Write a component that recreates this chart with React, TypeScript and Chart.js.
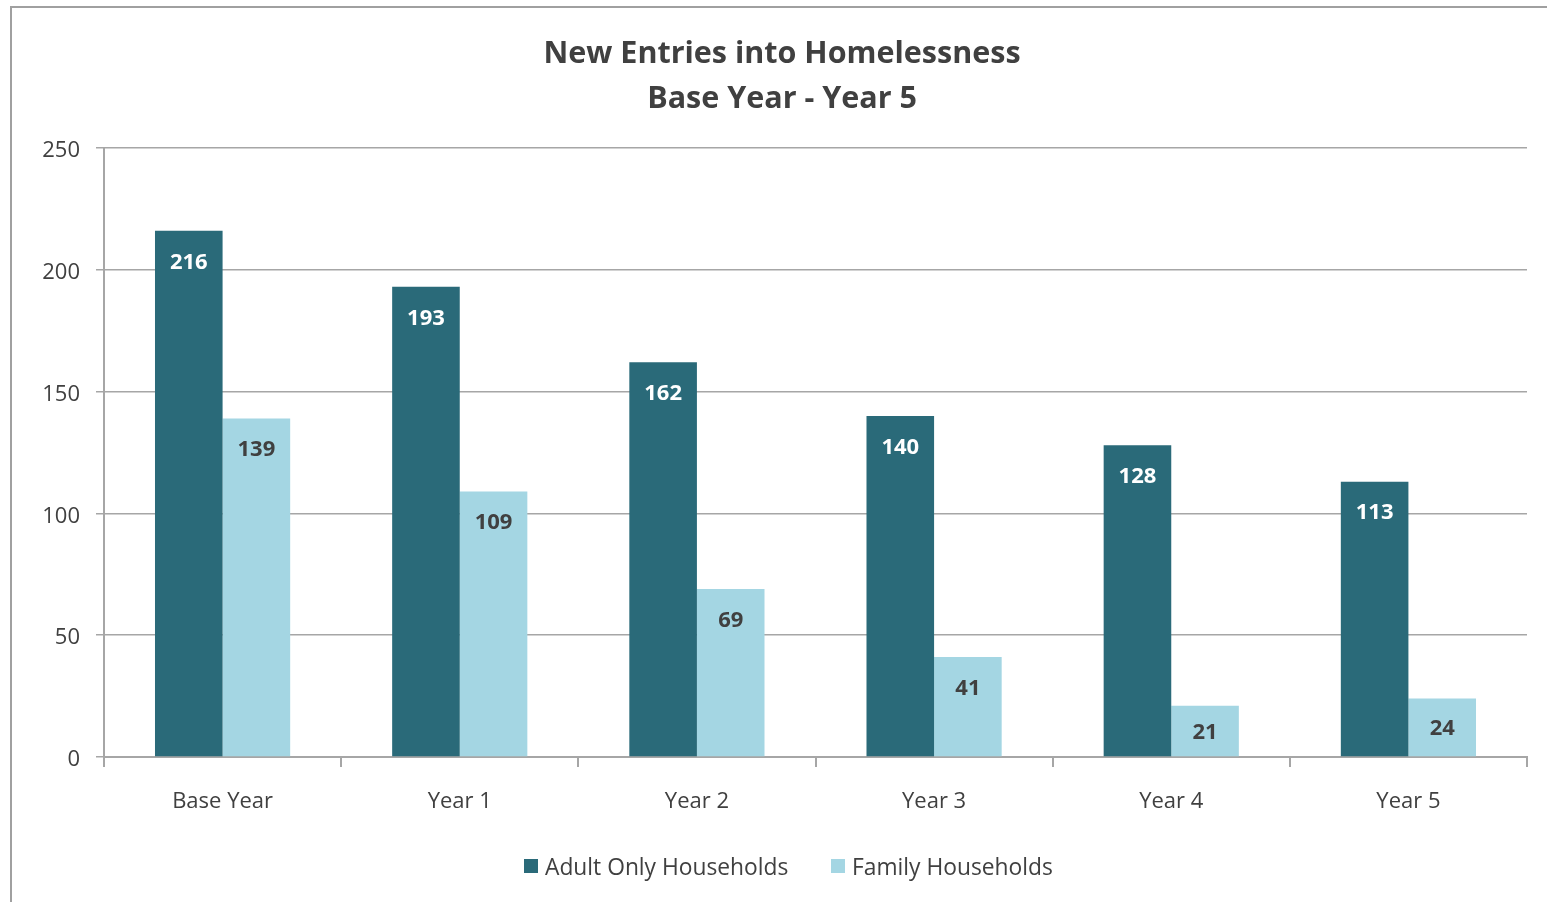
import React, { useEffect, useRef } from "react";
import { Chart, registerables } from "chart.js";

Chart.register(...registerables);

const categories = ["Base Year", "Year 1", "Year 2", "Year 3", "Year 4", "Year 5"];
const adultOnly = [216, 193, 162, 140, 128, 113];
const family = [139, 109, 69, 41, 21, 24];
const seriesNames = ["Adult Only Households", "Family Households"];
const titleLines = ["New Entries into Homelessness", "Base Year - Year 5"];
const yTicks = [0, 50, 100, 150, 200, 250];

const DARK = "#2A6A79";
const LIGHT = "#A4D6E3";
const TEXT = "#404040";
const GRID = "#a6a6a6";
const FONT = "'Open Sans', sans-serif";

const decorPlugin = {
  id: "decor",
  beforeDraw(chart: any) {
    const ctx = chart.ctx;
    ctx.save();
    ctx.fillStyle = "#ffffff";
    ctx.fillRect(0, 0, chart.width, chart.height);
    ctx.strokeStyle = "#a0a0a0";
    ctx.lineWidth = 2;
    ctx.beginPath();
    ctx.moveTo(11, chart.height);
    ctx.lineTo(11, 7);
    ctx.lineTo(chart.width, 7);
    ctx.stroke();
    ctx.restore();
  },
  afterDatasetsDraw(chart: any) {
    const ctx = chart.ctx;
    ctx.save();
    ctx.font = `bold 22px ${FONT}`;
    ctx.textAlign = "center";
    ctx.textBaseline = "middle";
    chart.data.datasets.forEach((ds: any, i: number) => {
      const meta = chart.getDatasetMeta(i);
      meta.data.forEach((el: any, j: number) => {
        const v = ds.data[j];
        const y = Math.min(el.y + 30, (el.y + el.base) / 2);
        ctx.fillStyle = i === 0 ? "#ffffff" : TEXT;
        ctx.fillText(String(v), el.x, y + 1.5);
      });
    });
    ctx.restore();
  },
  afterDraw(chart: any) {
    const ctx = chart.ctx;
    ctx.save();
    // Title
    ctx.fillStyle = TEXT;
    ctx.font = `bold 30.5px ${FONT}`;
    ctx.textAlign = "center";
    ctx.textBaseline = "middle";
    ctx.fillText(titleLines[0], 782, 54);
    ctx.fillText(titleLines[1], 782, 99);
    // Legend
    ctx.font = `22.8px ${FONT}`;
    ctx.textAlign = "left";
    const colors = [DARK, LIGHT];
    const xs = [524, 831];
    seriesNames.forEach((name, i) => {
      ctx.fillStyle = colors[i];
      ctx.fillRect(xs[i], 859, 14, 14);
      ctx.fillStyle = TEXT;
      ctx.fillText(name, xs[i] + 21, 869);
    });
    ctx.restore();
  },
};

export default function App() {
  const ref = useRef<HTMLCanvasElement | null>(null);
  useEffect(() => {
    if (!ref.current) return;
    const chart = new Chart(ref.current, {
      type: "bar",
      data: {
        labels: categories,
        datasets: [
          { label: seriesNames[0], data: adultOnly, backgroundColor: DARK },
          { label: seriesNames[1], data: family, backgroundColor: LIGHT },
        ],
      },
      options: {
        responsive: false,
        animation: false,
        devicePixelRatio: 1,
        layout: { padding: { left: 0, right: 20, top: 148, bottom: 85 } },
        plugins: {
          legend: { display: false },
          title: { display: false },
          tooltip: { enabled: false },
        },
        datasets: {
          bar: { categoryPercentage: 0.57, barPercentage: 1.0 },
        },
        scales: {
          x: {
            afterFit: (s: any) => {
              s.height = 60;
            },
            grid: {
              offset: true,
              drawOnChartArea: false,
              drawTicks: true,
              tickLength: 10,
              color: GRID,
              lineWidth: 2,
            },
            border: { display: true, color: GRID, width: 2 },
            ticks: {
              color: TEXT,
              font: { family: FONT, size: 22 },
              padding: 22,
              maxRotation: 0,
            },
          },
          y: {
            min: 0,
            max: 250,
            afterFit: (s: any) => {
              s.width = 104;
            },
            afterBuildTicks: (s: any) => {
              s.ticks = yTicks.map((v) => ({ value: v }));
            },
            grid: {
              drawOnChartArea: true,
              drawTicks: true,
              tickLength: 8,
              color: GRID,
              lineWidth: 1.5,
            },
            border: { display: true, color: GRID, width: 2 },
            ticks: {
              color: TEXT,
              font: { family: FONT, size: 22 },
              padding: 16,
              labelOffset: 3,
            },
          },
        },
      },
      plugins: [decorPlugin],
    });
    return () => chart.destroy();
  }, []);
  return (
    <div style={{ position: "fixed", left: 0, top: 0, width: 1547, height: 902, background: "#fff" }}>
      <canvas ref={ref} width={1547} height={902} style={{ width: 1547, height: 902, display: "block" }} />
    </div>
  );
}
